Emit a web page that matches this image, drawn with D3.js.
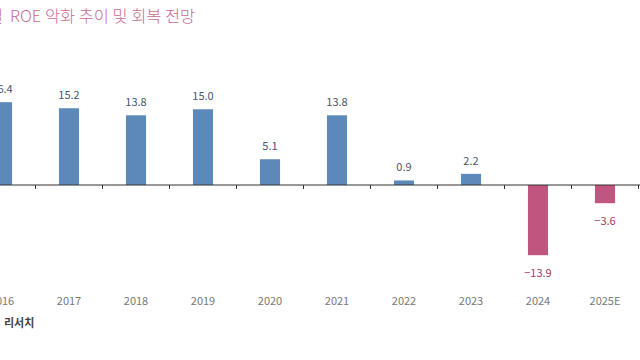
<!DOCTYPE html>
<html>
<head>
<meta charset="utf-8">
<script src="https://cdn.jsdelivr.net/npm/d3@7"></script>
<style>
  html, body { margin: 0; padding: 0; background: #fff; }
  svg { display: block; }
</style>
</head>
<body>
<svg id="chart" width="640" height="360"></svg>
<script>
// ROE by year (%)
const years = ['2016', '2017', '2018', '2019', '2020', '2021', '2022', '2023', '2024', '2025E']
const roe = [16.4, 15.2, 13.8, 15.0, 5.1, 13.8, 0.9, 2.2, -13.9, -3.6]
const titleHead = '별'
const title = 'ROE 악화 추이 및 회복 전망'
const source = '리서치'

const svg = d3.select('#chart')
const font = "'Noto Sans CJK KR', 'Noto Sans', sans-serif"

const x = d3.scaleBand()
  .domain(years)
  .range([-31.5, 638.5])
  .paddingInner(0.7)
  .paddingOuter(0.35)

const y = d3.scaleLinear()
  .domain([-20, 20])
  .range([286, 84])

// title (left part cut off in the original crop)
svg.append('text')
  .attr('x', 3)
  .attr('y', 22)
  .attr('text-anchor', 'end')
  .attr('font-family', font)
  .attr('font-size', 16.4)
  .attr('font-weight', 300)
  .attr('fill', '#c76b93')
  .text(titleHead)

svg.append('text')
  .attr('x', 10)
  .attr('y', 22)
  .attr('font-family', font)
  .attr('font-size', 16.4)
  .attr('font-weight', 300)
  .attr('fill', '#c76b93')
  .text(title)

// bars
svg.append('g')
  .selectAll('rect')
  .data(roe)
  .join('rect')
  .attr('x', (_, i) => x(years[i]))
  .attr('width', x.bandwidth())
  .attr('y', d => y(Math.max(0, d)))
  .attr('height', d => Math.abs(y(d) - y(0)))
  .attr('fill', d => d < 0 ? '#c0567f' : '#5d89ba')

// value labels
svg.append('g')
  .selectAll('text')
  .data(roe)
  .join('text')
  .attr('x', (_, i) => x(years[i]) + x.bandwidth() / 2)
  .attr('y', d => d < 0 ? y(d) + 17 : y(d) - 14)
  .attr('text-anchor', 'middle')
  .attr('dominant-baseline', 'central')
  .attr('font-family', font)
  .attr('font-size', 11)
  .attr('fill', d => d < 0 ? '#9c3c62' : '#44576e')
  .text(d => d < 0 ? '\u2212' + Math.abs(d).toFixed(1) : d.toFixed(1))

// zero axis with boundary ticks
const axis = svg.append('g')
axis.append('line')
  .attr('x1', 0).attr('x2', 640)
  .attr('y1', y(0)).attr('y2', y(0))
  .attr('stroke', '#333').attr('stroke-width', 1)

const step = x.step()
axis.selectAll('.tick')
  .data(years)
  .join('line')
  .attr('class', 'tick')
  .attr('x1', d => x(d) + x.bandwidth() / 2 + step / 2)
  .attr('x2', d => x(d) + x.bandwidth() / 2 + step / 2)
  .attr('y1', y(0)).attr('y2', y(0) + 4)
  .attr('stroke', '#333')

// category labels
svg.append('g')
  .selectAll('text')
  .data(years)
  .join('text')
  .attr('x', d => x(d) + x.bandwidth() / 2)
  .attr('y', 300)
  .attr('text-anchor', 'middle')
  .attr('dominant-baseline', 'central')
  .attr('font-family', font)
  .attr('font-size', 11)
  .attr('fill', '#777')
  .text(d => d)

// source note (cut off on the left)
svg.append('text')
  .attr('x', 4)
  .attr('y', 322)
  .attr('dominant-baseline', 'central')
  .attr('font-family', font)
  .attr('font-size', 11)
  .attr('font-weight', 'bold')
  .attr('fill', '#444')
  .text(source)
</script>
</body>
</html>
